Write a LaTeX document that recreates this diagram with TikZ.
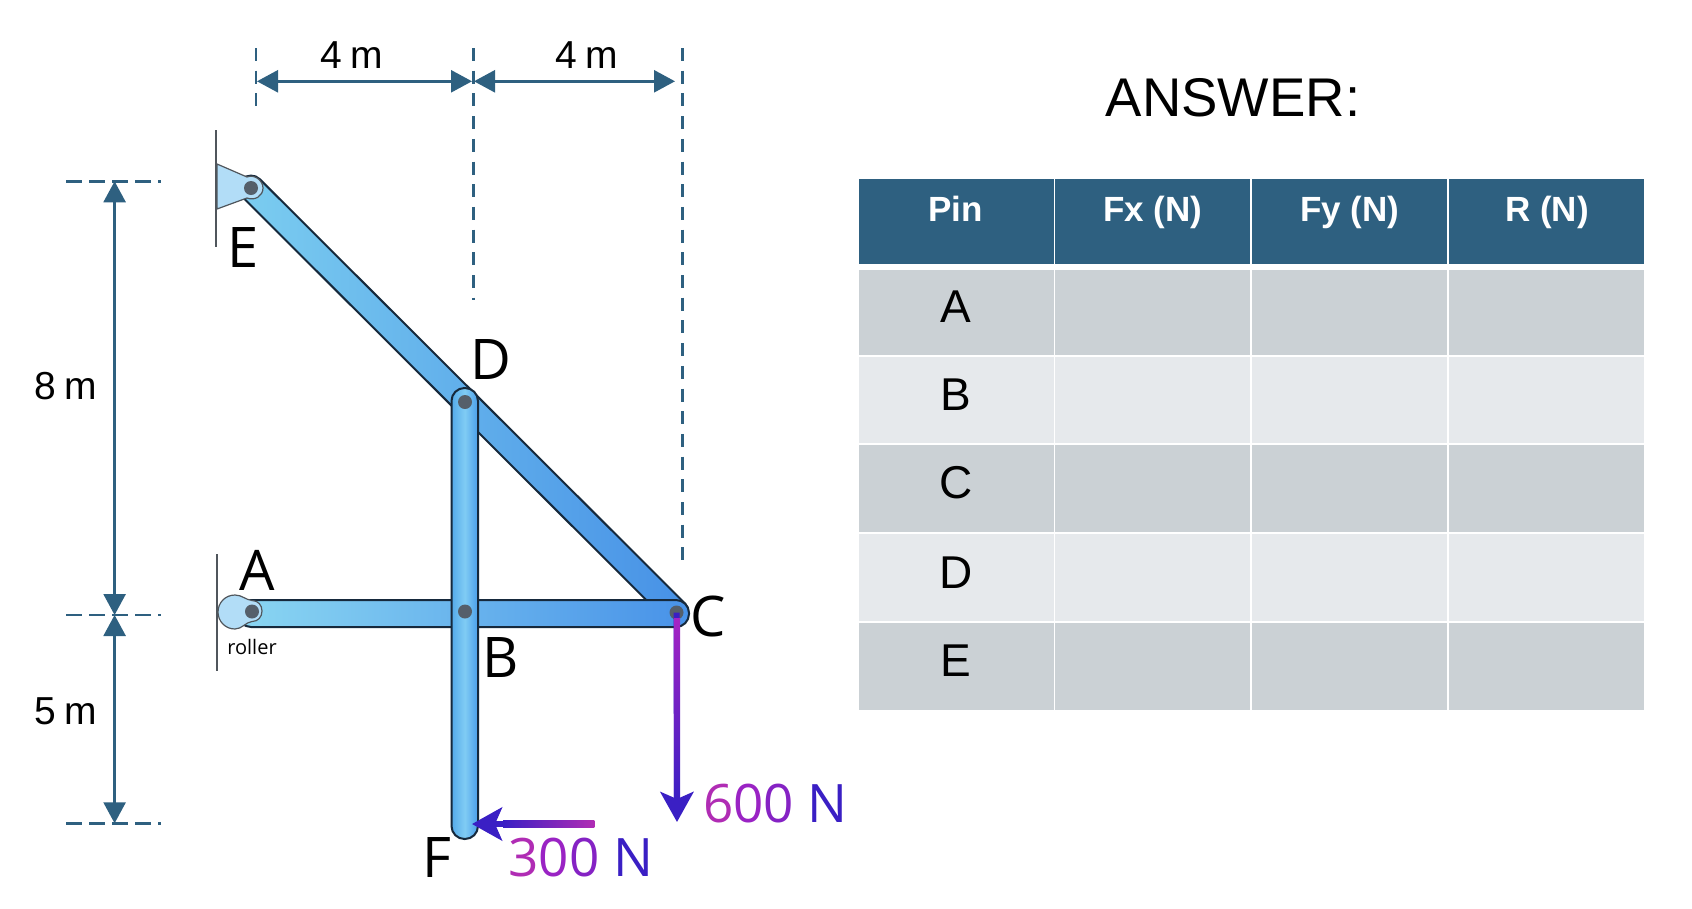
\documentclass[tikz,border=0pt]{standalone}
\usepackage{fontspec}
\setmainfont{Liberation Sans}
\newfontfamily\figfont{Open Sans}
\usetikzlibrary{arrows.meta}
\definecolor{dimblue}{HTML}{2E6080}
\definecolor{rowdark}{HTML}{CBD1D5}
\definecolor{rowlight}{HTML}{E6E9EC}
\definecolor{barline}{HTML}{16293C}
\definecolor{wallgray}{HTML}{50565C}
\definecolor{pinfill}{HTML}{555F6A}
\definecolor{bracketfill}{HTML}{B2DDF7}
\definecolor{indigo}{HTML}{3A1FC4}
\definecolor{violetm}{HTML}{A524C4}
\definecolor{magm}{HTML}{B02CB4}
\newcommand{\szfont}[1]{\fontsize{#1}{#1}\selectfont}
\tikzset{
  x=1pt,y=-1pt,
  txt/.style={inner sep=0pt,outer sep=0pt,anchor=base},
  dimlabel/.style={txt,font=\szfont{39}},
  ptlabel/.style={txt,text=black,font=\figfont\szfont{56}},
  forcelabel/.style={txt,font=\figfont\szfont{53}},
  rowlabel/.style={txt,font=\szfont{46}},
  headlabel/.style={txt,text=white,font=\bfseries\szfont{35}},
  dimdash/.style={draw=dimblue,line width=2.4pt,dash pattern=on 13pt off 9.7pt},
  dimhdash/.style={draw=dimblue,line width=2.6pt,dash pattern=on 16pt off 7pt},
  dimarrow/.style={draw=dimblue,line width=2.6pt,{Triangle[length=21pt,width=22pt]}-{Triangle[length=21pt,width=22pt]}},
  bar/.style={draw=barline,line width=2pt,rounded corners=12.4pt},
  pin/.style={circle,fill=pinfill,inner sep=0pt,minimum size=14pt},
  wall/.style={draw=wallgray,line width=2pt},
  support/.style={draw=wallgray,line width=1.2pt,fill=bracketfill},
  force/.style={draw=indigo,line width=6pt,-{Stealth[length=30pt,width=33pt,inset=7pt]}},
}
\begin{document}
\begin{tikzpicture}
\useasboundingbox (0,0) rectangle (1692,908);
\fill[white] (0,0) rectangle (1692,908);

% ---- reference coordinates
\coordinate (topL) at (256,48);  \coordinate (botL) at (256,107);
\coordinate (topM) at (473.4,48);\coordinate (botM) at (473.4,300);
\coordinate (topR) at (682.4,48);\coordinate (botR) at (682.4,562);
\coordinate (dimL) at (257,81.3);\coordinate (dimMa) at (472,81.3);\coordinate (dimMb) at (474,81.3);\coordinate (dimR) at (675,81.3);
\coordinate (h1a) at (66,181.3); \coordinate (h1b) at (161,181.3);
\coordinate (h2a) at (66,615);   \coordinate (h2b) at (161,615);
\coordinate (h3a) at (66,823.3); \coordinate (h3b) at (161,823.3);
\coordinate (v1) at (114.6,181.3);\coordinate (v2) at (114.6,615);\coordinate (v3) at (114.6,823.3);

% ---- dimension lines
\draw[dimdash] (topL) -- (botL);
\draw[dimdash] (topM) -- (botM);
\draw[dimdash] (topR) -- (botR);
\draw[dimhdash] (h1a) -- (h1b);
\draw[dimhdash] (h2a) -- (h2b);
\draw[dimhdash] (h3a) -- (h3b);
\draw[dimarrow] (dimL) -- (dimMa);
\draw[dimarrow] (dimMb) -- (dimR);
\draw[dimarrow] (v1) -- (v2);
\draw[dimarrow] (v2) -- (v3);
\node[dimlabel] (d1) at (352,68) {4\hspace{8pt}m};
\node[dimlabel] (d2) at (587,68) {4\hspace{8pt}m};
\node[dimlabel] (d3) at (66,399) {8\hspace{8pt}m};
\node[dimlabel] (d4) at (66,724) {5\hspace{8pt}m};

% ---- walls
\draw[wall] (216,130) -- (216,247);
\draw[wall] (217,554) -- (217,671);

% ---- bars
\path[bar,
      left color={rgb,255:red,124;green,206;blue,240},
      right color={rgb,255:red,70;green,144;blue,230}]
  (251,170.4) -- (693.6,612) -- (676,629.6) -- (233.4,188) -- cycle;
\path[bar,rounded corners=13pt,
      left color={rgb,255:red,138;green,214;blue,242},
      right color={rgb,255:red,72;green,146;blue,232}]
  (238,600) -- (689,600) -- (689,627) -- (238,627) -- cycle;

% ---- supports
\path[support] (217,164) -- (247,177) .. controls (254,174) and (263,180) .. (263,188)
  .. controls (263,196) and (255,201) .. (247,198) -- (217,209) -- cycle;
\path[support] (235,595) .. controls (242,595) and (246,600) .. (252,600.5)
  .. controls (258,600.5) and (262,605) .. (262,611)
  .. controls (262,617) and (258,621.5) .. (252,621.5)
  .. controls (246,622) and (242,629) .. (235,629)
  .. controls (225,629) and (218,621) .. (218,612)
  .. controls (218,603) and (225,595) .. (235,595) -- cycle;

% ---- vertical bar
\path[bar,rounded corners=13pt,
      left color={rgb,255:red,84;green,170;blue,234},
      right color={rgb,255:red,74;green,158;blue,234},
      middle color={rgb,255:red,128;green,204;blue,244}]
  (451.5,388) -- (478,388) -- (478,839) -- (451.5,839) -- cycle;

% ---- pins
\node[pin] (pE) at (251,188) {};
\node[pin] (pA) at (252,611.5) {};
\node[pin] (pB) at (465,611.5) {};
\node[pin] (pC) at (676.5,612.5) {};
\node[pin] (pD) at (465,402) {};

% ---- forces
\coordinate (tip600) at (677,822);
\coordinate (tip300) at (472,824);
\coordinate (tail300) at (594,824);
\draw[force] (pC.center) -- (tip600);
\draw[force] (tail300) -- (tip300);
\shade[top color=violetm,bottom color=indigo] (673.8,618) rectangle (680.2,800);
\shade[left color=indigo,right color=magm] (503,820.8) rectangle (594.3,827.2);

% ---- point labels
\node[ptlabel] (lE) at (243,267) {E};
\node[ptlabel] (lD) at (491,379) {D};
\node[ptlabel] (lA) at (257,590) {A};
\node[ptlabel] (lC) at (708,636) {C};
\node[ptlabel] (lB) at (501,677) {B};
\node[ptlabel] (lF) at (437,877) {F};
\node[txt,font=\figfont\szfont{20}] (lroller) at (252,654) {roller};
\node[forcelabel] (f600) at (775.5,822.5) {\textcolor{magm}{6}\textcolor{violetm!90!indigo}{0}\textcolor{violetm!70!indigo}{0} \textcolor{indigo}{N}};
\node[forcelabel] (f300) at (581,876.5) {\textcolor{magm}{3}\textcolor{violetm!90!indigo}{0}\textcolor{violetm!70!indigo}{0} \textcolor{indigo}{N}};

% ---- table
\node[txt,font=\szfont{54.5}] (answer) at (1233,116) {ANSWER:};
\foreach \xa/\xb/\xc/\h in {859/1053.5/955.8/Pin,1055/1249.8/1153/{Fx (N)},1251.5/1446.8/1350/{Fy (N)},1448.5/1643.8/1547/{R (N)}}{
  \fill[dimblue] (\xa,179.3) rectangle (\xb,264);
  \node[headlabel] at (\xc,221) {\h};
  \foreach \ya/\yb/\c in {270.4/354.5/rowdark,356.5/443/rowlight,445/532.3/rowdark,534/620.7/rowlight,622.5/709.5/rowdark}{
    \fill[\c] (\xa,\ya) rectangle (\xb,\yb);
  }
}
\node[rowlabel] (ra) at (955.8,322.3) {A};
\node[rowlabel] (rb) at (955.8,410.5) {B};
\node[rowlabel] (rc) at (955.8,498.5) {C};
\node[rowlabel] (rd) at (955.8,588) {D};
\node[rowlabel] (re) at (955.8,676.5) {E};
\end{tikzpicture}
\end{document}
